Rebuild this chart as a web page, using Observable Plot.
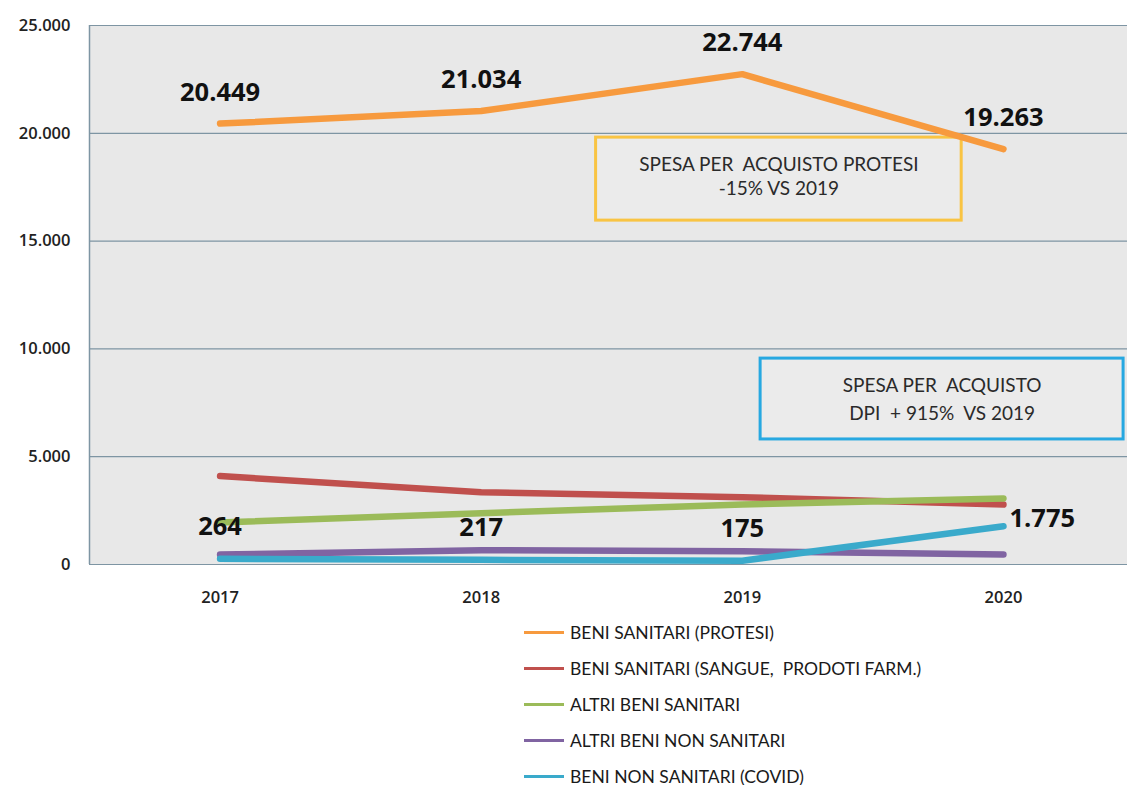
<!DOCTYPE html>
<html>
<head>
<meta charset="utf-8">
<script src="https://cdn.jsdelivr.net/npm/d3@7"></script>
<script src="https://cdn.jsdelivr.net/npm/@observablehq/plot@0.6"></script>
<style>
  html, body { margin: 0; padding: 0; background: #fff; }
  #wrap { position: relative; width: 1127px; height: 785px; overflow: hidden; }
  #legend { position: absolute; left: 0; top: 0; width: 1127px; }
  .lg { position: absolute; display: flex; align-items: center; font-family: Lato, "Open Sans", sans-serif; font-size: 17.5px; color: #1a1a1a; white-space: pre; height: 20px; }
  .lg span.sw { display: inline-block; width: 40px; height: 3px; margin-right: 6px; }
  g[aria-label="tick-labels"] text { letter-spacing: 1.4px; }
</style>
</head>
<body>
<div id="wrap"><div id="chart"></div><div id="legend"></div></div>
<script>
// ---- data ----
const years = [2017, 2018, 2019, 2020];
const seriesNames = [
  "BENI SANITARI (PROTESI)",
  "BENI SANITARI (SANGUE,  PRODOTI FARM.)",
  "ALTRI BENI SANITARI",
  "ALTRI BENI NON SANITARI",
  "BENI NON SANITARI (COVID)"
];
const protesi = [20449, 21034, 22744, 19263];
const sangueFarm = [4100, 3350, 3120, 2780];
const altriSanitari = [1950, 2380, 2780, 3060];
const altriNonSanitari = [460, 660, 620, 460];
const covid = [264, 217, 175, 1775];
const seriesColors = ["#f79a3e", "#c0504d", "#9bbb59", "#8064a2", "#3aaacb"];
const yTicks = [0, 5000, 10000, 15000, 20000, 25000];
const noteTexts = [
  "SPESA PER  ACQUISTO PROTESI\n-15% VS 2019",
  "SPESA PER  ACQUISTO\nDPI  + 915%  VS 2019"
];
const noteColors = ["#f9c443", "#27a8e1"];
// annotation boxes in data units (year, value)
const noteX1 = [2018.44, 2019.07];
const noteX2 = [2019.84, 2020.46];
const noteY1 = [15950, 5800];
const noteY2 = [19800, 9550];

// ---- build tables ----
const allValues = [protesi, sangueFarm, altriSanitari, altriNonSanitari, covid];
const rows = [];
allValues.forEach((vals, s) => vals.forEach((v, i) => rows.push({serie: seriesNames[s], idx: s, year: years[i], value: v})));
const notes = noteTexts.map((t, i) => ({text: t, color: noteColors[i], x1: noteX1[i], x2: noteX2[i], y1: noteY1[i], y2: noteY2[i]}));

const fmt = d => d3.format(",")(d).replace(/,/g, ".");

const protesiRows = rows.filter(d => d.idx === 0);
const covidRows = rows.filter(d => d.idx === 4);

const noteText = (note, lh, dy) => Plot.text([note], {
  x: d => (d.x1 + d.x2) / 2, y: d => (d.y1 + d.y2) / 2, text: "text",
  fontFamily: "Lato, sans-serif", fontSize: 19, fill: "#2a2a2a", lineHeight: lh, dy
});

const chart = Plot.plot({
  width: 1127,
  height: 615,
  marginLeft: 89,
  marginRight: 0,
  marginTop: 25,
  marginBottom: 51,
  style: {fontFamily: "'Open Sans', sans-serif", background: "#fff", overflow: "visible"},
  x: {type: "linear", domain: [2016.5, 2020.475], axis: null},
  y: {domain: [0, 25000], axis: null},
  color: {domain: seriesNames, range: seriesColors},
  marks: [
    Plot.frame({fill: "#e8e8e8", stroke: null}),
    Plot.ruleY(yTicks, {stroke: "#7e95a3", strokeWidth: 1.2}),
    Plot.ruleX([2016.5], {stroke: "#7e95a3", strokeWidth: 1.5}),
    // y tick labels
    Plot.text(yTicks, {x: 2016.5, y: d => d, text: d => fmt(d), textAnchor: "end", dx: -19, fontSize: 16.5, fill: "#222", fontWeight: 600, ariaLabel: "tick-labels"}),
    // x tick labels
    Plot.text(years, {x: d => d, y: 0, text: d => String(d), dy: 33, fontSize: 16.5, fill: "#222", fontWeight: 600, ariaLabel: "tick-labels"}),
    // annotation boxes
    Plot.rect(notes, {x1: "x1", x2: "x2", y1: "y1", y2: "y2", fill: "#ebebeb", stroke: "color", strokeWidth: 3}),
    noteText(notes[0], 1.28, -4),
    noteText(notes[1], 1.47, -2),
    // lines
    Plot.line(rows, {x: "year", y: "value", z: "serie", stroke: "serie", strokeWidth: 6.5, strokeLinecap: "round", strokeLinejoin: "round"}),
    // value labels
    Plot.text(protesiRows, {x: "year", y: "value", text: d => fmt(d.value), dy: -31, fontSize: 25.5, fontWeight: 700, fill: "#111"}),
    Plot.text(covidRows.filter(d => d.year !== 2020), {x: "year", y: "value", text: d => fmt(d.value), dy: -32, fontSize: 25.5, fontWeight: 700, fill: "#111"}),
    Plot.text(covidRows.filter(d => d.year === 2020), {x: "year", y: "value", text: d => fmt(d.value), dx: 6, dy: -7, textAnchor: "start", fontSize: 25.5, fontWeight: 700, fill: "#111"})
  ]
});
document.getElementById("chart").appendChild(chart);

// legend
const legend = document.getElementById("legend");
seriesNames.forEach((name, i) => {
  const row = document.createElement("div");
  row.className = "lg";
  row.style.left = "524px";
  row.style.top = (622 + i * 36) + "px";
  const sw = document.createElement("span");
  sw.className = "sw";
  sw.style.background = seriesColors[i];
  row.appendChild(sw);
  const t = document.createElement("span");
  t.textContent = name;
  row.appendChild(t);
  legend.appendChild(row);
});
</script>
</body>
</html>
